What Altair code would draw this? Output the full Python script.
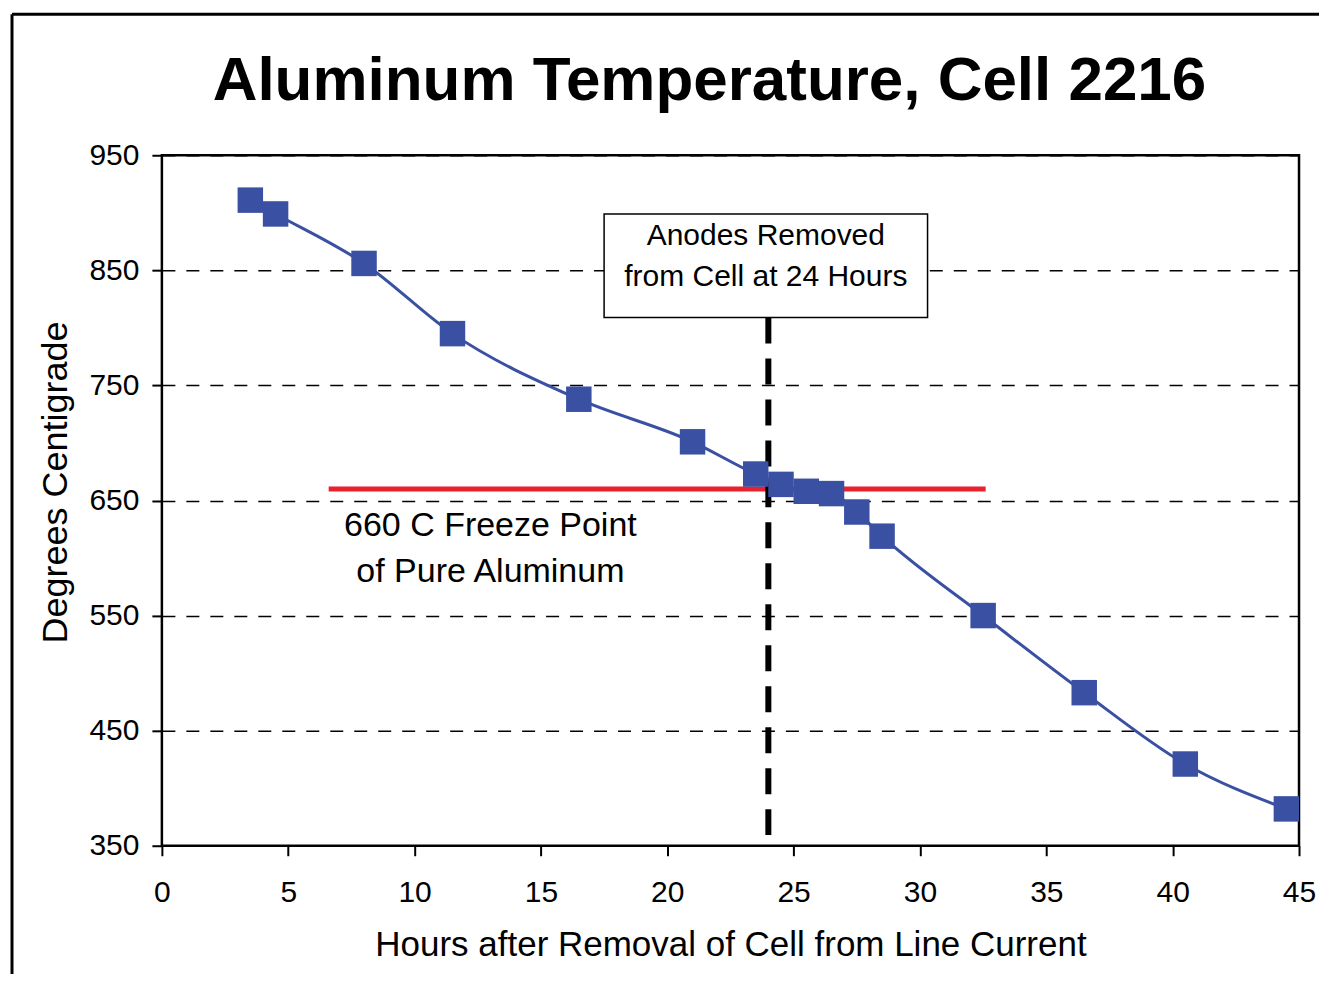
import altair as alt
import pandas as pd

hours = [3.5, 4.5, 8.0, 11.5, 16.5, 21.0, 23.5, 24.5, 25.5, 26.5, 27.5, 28.5, 32.5, 36.5, 40.5, 44.5]
temps = [911, 899, 856, 795, 738, 701, 673, 664, 658, 656, 640, 619, 550, 483, 421, 382]

freeze_x = [6.6, 32.6]
freeze_y = [660, 660]

anode_x = [24, 24]
anode_y = [809, 355]

box_x = [17.5]
box_x2 = [30.3]
box_y = [899]
box_y2 = [809]

W, H = 1138, 691
FONT = "Liberation Sans"

df = pd.DataFrame({"h": hours, "t": temps})
xs = alt.Scale(domain=[0, 45], nice=False, zero=False)
ys = alt.Scale(domain=[350, 950], nice=False, zero=False)

base = alt.Chart(df)

line = base.mark_line(color="#3A50A3", strokeWidth=3, interpolate="monotone").encode(
    x=alt.X("h:Q", scale=xs, axis=alt.Axis(
        values=list(range(0, 50, 5)), title="Hours after Removal of Cell from Line Current",
        grid=False, domain=False, tickColor="black", tickWidth=2, tickSize=10, labelFlush=False,
        labelFontSize=30, labelColor="black", labelPadding=22, labelFont=FONT,
        titleFontSize=35, titleFont=FONT, titleFontWeight="normal", titleColor="black", titlePadding=20)),
    y=alt.Y("t:Q", scale=ys, axis=alt.Axis(
        values=list(range(350, 1000, 100)), title="Degrees Centigrade",
        grid=True, gridDash=[13, 11], gridColor="black", gridWidth=1.5, gridOpacity=1,
        domain=False, tickColor="black", tickWidth=2, tickSize=10, labelFlush=False,
        labelFontSize=30, labelColor="black", labelPadding=13, labelFont=FONT,
        titleFontSize=36, titleFont=FONT, titleFontWeight="normal", titleColor="black",
        titleY=327, titleX=-106, titleBaseline="middle")),
)

points = base.mark_square(color="#3A50A3", size=650, opacity=1, clip=False).encode(
    x=alt.X("h:Q", scale=xs), y=alt.Y("t:Q", scale=ys)
)

freeze = alt.Chart(pd.DataFrame({"x": freeze_x, "y": freeze_y})).mark_line(
    color="#E8222C", strokeWidth=5).encode(x=alt.X("x:Q", scale=xs), y=alt.Y("y:Q", scale=ys))

anode = alt.Chart(pd.DataFrame({"x": anode_x, "y": anode_y})).mark_line(
    color="black", strokeWidth=6, strokeDash=[26, 15]).encode(x=alt.X("x:Q", scale=xs), y=alt.Y("y:Q", scale=ys))

box = alt.Chart(pd.DataFrame({"x": box_x, "x2": box_x2, "y": box_y, "y2": box_y2})).mark_rect(
    fill="white", stroke="black", strokeWidth=1.5).encode(
    x=alt.X("x:Q", scale=xs), x2="x2:Q", y=alt.Y("y:Q", scale=ys), y2="y2:Q")

box_text = alt.Chart(pd.DataFrame({"x": [23.9], "y": [880], "txt": [["Anodes Removed", "from Cell at 24 Hours"]]})).mark_text(
    font=FONT, fontSize=30, color="black", align="center", baseline="middle", lineHeight=41).encode(
    x=alt.X("x:Q", scale=xs), y=alt.Y("y:Q", scale=ys), text="txt")

freeze_text = alt.Chart(pd.DataFrame({"x": [13.0], "y": [628], "txt": [["660 C Freeze Point", "of Pure Aluminum"]]})).mark_text(
    font=FONT, fontSize=34, color="black", align="center", baseline="middle", lineHeight=46).encode(
    x=alt.X("x:Q", scale=xs), y=alt.Y("y:Q", scale=ys), text="txt")

title = alt.Chart(pd.DataFrame({"a": [1]})).mark_text(
    font=FONT, fontSize=62, fontWeight="bold", color="black", align="center", baseline="alphabetic",
    text="Aluminum Temperature, Cell 2216").encode(x=alt.value(548), y=alt.value(-55))

frame_top = alt.Chart(pd.DataFrame({"a": [1]})).mark_rule(color="black", strokeWidth=3, clip=False).encode(
    x=alt.value(-150), x2=alt.value(1170), y=alt.value(-141))
frame_left = alt.Chart(pd.DataFrame({"a": [1]})).mark_rule(color="black", strokeWidth=3, clip=False).encode(
    x=alt.value(-150), y=alt.value(-141), y2=alt.value(840))

chart = alt.layer(line, freeze, anode, points, box, box_text, freeze_text, title, frame_top, frame_left).properties(
    width=W, height=H,
    autosize=alt.AutoSizeParams(type="none"),
    padding={"left": 154, "top": 147, "right": 20, "bottom": 128},
).configure_view(stroke="black", strokeWidth=2.5)

chart.save("out.html", embed_options={"renderer": "svg", "actions": False})
